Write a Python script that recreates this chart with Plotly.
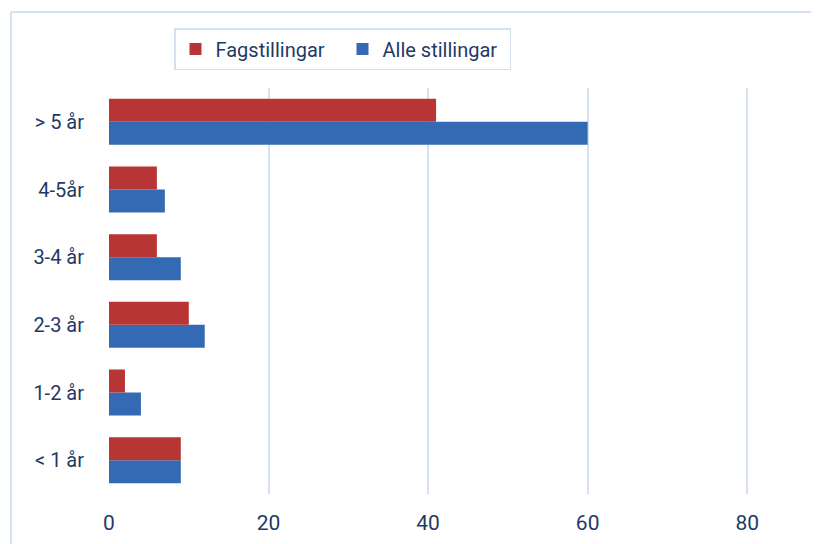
import plotly.graph_objects as go

categories = ["< 1 år", "1-2 år", "2-3 år", "3-4 år", "4-5år", "> 5 år"]
fagstillingar = [9, 2, 10, 6, 6, 41]
alle_stillingar = [9, 4, 12, 9, 7, 60]
x_ticks = [0, 20, 40, 60, 80]

FONT = "Roboto, sans-serif"
TXT = "#1F3A66"
GRID = "#D5E1F0"

# page body has an 8px margin; figure layout compensates
L, T, PW, PH = 101, 80, 710, 406
W, H = 819, 544

fig = go.Figure()
fig.add_trace(go.Bar(
    y=categories, x=alle_stillingar, orientation="h", name="Alle stillingar",
    marker=dict(color="#3469B3", line=dict(width=0)),
))
fig.add_trace(go.Bar(
    y=categories, x=fagstillingar, orientation="h", name="Fagstillingar",
    marker=dict(color="#B83536", line=dict(width=0)),
))

def px(xf):
    return (xf - L) / PW

def py(yf):
    return (T + PH - yf) / PH

fig.update_layout(
    width=W, height=H,
    margin=dict(l=L, r=W - L - PW, t=T, b=H - T - PH, autoexpand=False),
    paper_bgcolor="white", plot_bgcolor="white",
    barmode="group", bargap=0.32, bargroupgap=0,
    font=dict(family=FONT, color=TXT, size=19),
    showlegend=True,
    legend=dict(
        orientation="h", traceorder="reversed",
        x=px(166), xanchor="left", y=py(20), yanchor="top",
        bordercolor=GRID, borderwidth=1.5,
        font=dict(size=20, color=TXT, family=FONT),
        entrywidth=122, entrywidthmode="pixels",
    ),
    xaxis=dict(
        range=[0, 89], tickvals=x_ticks, showgrid=True, gridcolor=GRID,
        gridwidth=1.5, zeroline=False, showline=False, ticks="",
        ticklabelstandoff=14, tickfont=dict(size=21), automargin=False,
    ),
    yaxis=dict(
        showgrid=False, zeroline=False, showline=False, ticks="",
        ticklabelstandoff=24, tickfont=dict(size=20), automargin=False,
    ),
    shapes=[
        dict(type="line", xref="paper", yref="paper",
             x0=px(3), x1=px(W), y0=py(4), y1=py(4),
             line=dict(color=GRID, width=2)),
        dict(type="line", xref="paper", yref="paper",
             x0=px(3), x1=px(3), y0=py(4), y1=py(H),
             line=dict(color=GRID, width=2)),
    ],
)

fig.write_html("out.html")
